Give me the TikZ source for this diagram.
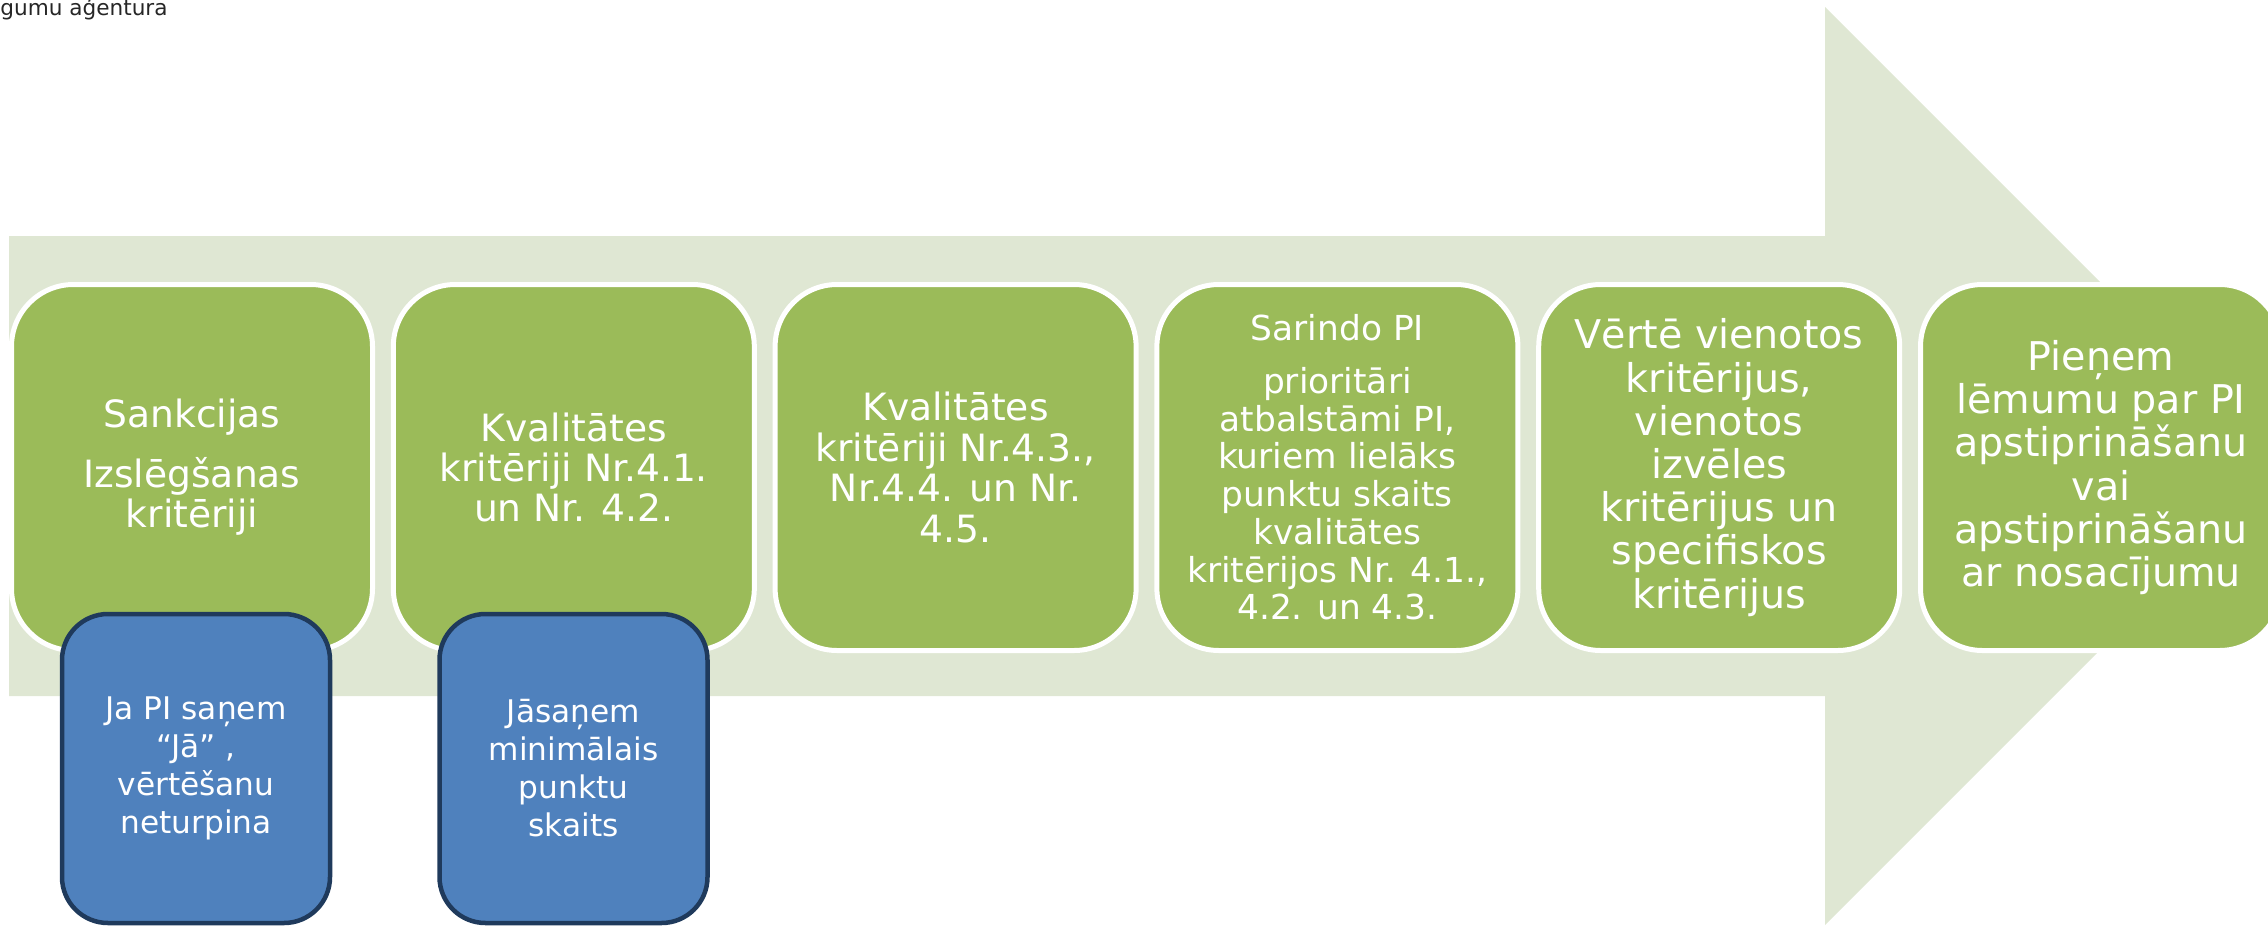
\documentclass[tikz,border=0pt]{standalone}
\usepackage{fontspec}
\setmainfont{DejaVu Sans}
\definecolor{arrowgreen}{HTML}{DFE7D3}
\definecolor{boxgreen}{HTML}{9BBB59}
\definecolor{boxblue}{HTML}{4F81BD}
\definecolor{navyedge}{HTML}{1F3A5C}
\definecolor{topgray}{HTML}{262626}
\begin{document}
\begin{tikzpicture}[x=0.5pt,y=-0.5pt,
  gbox/.style={draw=white, line width=2.5pt, fill=boxgreen, rounded corners=31pt,
    minimum width=180.5pt, minimum height=183pt, inner sep=0pt, align=center, text=white},
  bbox/.style={draw=navyedge, line width=2.25pt, fill=boxblue, rounded corners=23pt,
    minimum width=134pt, minimum height=154.5pt, inner sep=0pt, align=center, text=white,
    font=\fontsize{15.6}{19}\selectfont},
  fA/.style={font=\fontsize{18.8}{20.2}\selectfont},
  fB/.style={font=\fontsize{17.2}{18.85}\selectfont},
  fC/.style={font=\fontsize{19.8}{21.6}\selectfont}]
\useasboundingbox (0,0) rectangle (2268,926);
\clip (0,0) rectangle (2268,926);
\fill[arrowgreen] (9,236) -- (1825,236) -- (1825,7) -- (2284,466) -- (1825,925) -- (1825,696) -- (9,696) -- cycle;
\node[anchor=base west, inner sep=0pt, text=topgray, font=\fontsize{10.8}{13}\selectfont] (hdr) at (0,15) {gumu aģentura};
\node[gbox, fA] (b1) at (192,467.5) {Sankcijas\\[9.5pt]Izslēgšanas\\kritēriji};
\node[gbox, fA] (b2) at (573.8,467.5) {Kvalitātes\\kritēriji Nr.4.1.\\un Nr. 4.2.};
\node[gbox, fA] (b3) at (955.6,467.5) {Kvalitātes\\kritēriji Nr.4.3.,\\Nr.4.4. un Nr.\\4.5.};
\node[gbox, fB] (b4) at (1337.4,467.5) {Sarindo PI\\[7.5pt]prioritāri\\atbalstāmi PI,\\kuriem lielāks\\punktu skaits\\kvalitātes\\kritērijos Nr. 4.1.,\\4.2. un 4.3.};
\node[gbox, fC] (b5) at (1719.2,467.5) {Vērtē vienotos\\kritērijus,\\vienotos\\izvēles\\kritērijus un\\specifiskos\\kritērijus};
\node[gbox, fC] (b6) at (2101,467.5) {Pieņem\\lēmumu par PI\\apstiprināšanu\\vai\\apstiprināšanu\\ar nosacījumu};
\node[bbox] (n1) at (196,768.5) {Ja PI saņem\\“Jā” ,\\vērtēšanu\\neturpina};
\node[bbox] (n2) at (573.5,768.5) {Jāsaņem\\minimālais\\punktu\\skaits};
\end{tikzpicture}
\end{document}
